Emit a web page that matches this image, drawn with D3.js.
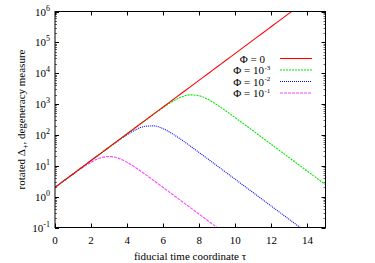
<!DOCTYPE html>
<html>
<head>
<meta charset="utf-8">
<title>degeneracy measure</title>
<script src="https://cdn.jsdelivr.net/npm/d3@7/dist/d3.min.js"></script>
<style>
    body { margin: 0; background: #fff; }
    svg text { font-family: "Liberation Serif", "DejaVu Serif", serif; fill: #000; }
</style>
</head>
<body>
<svg id="chart"></svg>
<script>
    // time coordinate samples (tau), shared by every curve
    const tau = [0, 0.5, 1, 1.5, 2, 2.5, 3, 3.5, 4, 4.5, 5, 5.5, 6, 6.5, 7, 7.5,
                 8, 8.5, 9, 9.5, 10, 10.5, 11, 11.5, 12, 12.5, 13, 13.5, 14, 14.5, 15];

    // Phi = 0 (straight growth)
    const phi0 = [2, 3.3, 5.44, 8.96, 14.8, 24.4, 40.2, 66.2, 109, 180, 297, 489, 807, 1330,
                  2190, 3620, 5960, 9830, 16200, 26700, 44100, 72600, 120000, 197000,
                  326000, 537000, 885000, 1460000];
    // Phi = 1e-3
    const phi3 = [2, 3.3, 5.44, 8.96, 14.8, 24.4, 40.2, 66.2, 109, 180, 295, 482, 775, 1198,
                  1686, 1990, 1851, 1396, 931, 586, 360, 220, 134, 81, 49.2, 29.8, 18.1,
                  11.0, 6.65, 4.03, 2.45];
    // Phi = 1e-2
    const phi2 = [2, 3.3, 5.44, 8.96, 14.8, 24.3, 39.8, 64.5, 102, 150, 191, 196, 159, 110,
                  70.6, 43.7, 26.7, 16.3, 9.87, 5.99, 3.63, 2.2, 1.34, 0.81, 0.49, 0.298,
                  0.181, 0.11, 0.0665];
    // Phi = 1e-1
    const phi1 = [2, 3.27, 5.34, 8.53, 13.0, 17.8, 20.0, 17.7, 12.9, 8.47, 5.29, 3.25, 1.98,
                  1.2, 0.729, 0.442, 0.268, 0.163, 0.0987, 0.06];

    const xTicks = [0, 2, 4, 6, 8, 10, 12, 14];
    const yExps = [-1, 0, 1, 2, 3, 4, 5, 6];

    const seriesNames = ["0", "-3", "-2", "-1"];
    const seriesColors = ["#ff0000", "#00e800", "#0000ff", "#ff44ff"];
    const seriesDash = [null, "2,1", "1,1", "3,1"];
    const seriesData = [phi0, phi3, phi2, phi1];

    const W = 375, H = 263;
    const pLeft = 55, pRight = 325.5, pTop = 11.5, pBottom = 227.5;

    const svg = d3.select("#chart").attr("width", W).attr("height", H);

    const x = d3.scaleLinear().domain([0, 15]).range([pLeft, pRight]);
    const y = d3.scaleLog().domain([0.1, 1e6]).range([pBottom, pTop]);

    svg.append("clipPath").attr("id", "plotclip")
        .append("rect")
        .attr("x", pLeft).attr("y", pTop)
        .attr("width", pRight - pLeft).attr("height", pBottom - pTop);

    // minor ticks on the log axis
    let minor = [];
    for (let e = -1; e < 6; e++) {
        for (let m = 2; m <= 9; m++) minor.push(m * Math.pow(10, e));
    }
    const tickG = svg.append("g").attr("stroke", "#000").attr("stroke-width", 1);
    minor.forEach(function (v) {
        const yy = Math.round(y(v)) + 0.5;
        tickG.append("line").attr("x1", pLeft).attr("x2", pLeft + 2).attr("y1", yy).attr("y2", yy)
            .attr("stroke", "#666");
        tickG.append("line").attr("x1", pRight - 2).attr("x2", pRight).attr("y1", yy).attr("y2", yy)
            .attr("stroke", "#666");
    });
    yExps.forEach(function (e) {
        const yy = Math.round(y(Math.pow(10, e))) + 0.5;
        tickG.append("line").attr("x1", pLeft).attr("x2", pLeft + 4).attr("y1", yy).attr("y2", yy);
        tickG.append("line").attr("x1", pRight - 4).attr("x2", pRight).attr("y1", yy).attr("y2", yy);
    });
    xTicks.forEach(function (t) {
        const xx = Math.round(x(t)) + 0.5;
        tickG.append("line").attr("x1", xx).attr("x2", xx).attr("y1", pBottom).attr("y2", pBottom - 4);
        tickG.append("line").attr("x1", xx).attr("x2", xx).attr("y1", pTop).attr("y2", pTop + 4);
    });

    // curves
    const line = d3.line()
        .x(function (d) { return x(d[0]); })
        .y(function (d) { return y(d[1]); })
        .curve(d3.curveMonotoneX);

    const curves = svg.append("g").attr("clip-path", "url(#plotclip)");
    // draw later series first so red ends on top
    for (let i = seriesData.length - 1; i >= 0; i--) {
        const pts = seriesData[i].map(function (v, k) { return [tau[k], v]; });
        curves.append("path")
            .attr("d", line(pts))
            .attr("fill", "none")
            .attr("stroke", seriesColors[i])
            .attr("stroke-width", 1.1)
            .attr("stroke-dasharray", seriesDash[i]);
    }

    // frame
    svg.append("rect")
        .attr("x", pLeft).attr("y", pTop)
        .attr("width", pRight - pLeft).attr("height", pBottom - pTop)
        .attr("fill", "none").attr("stroke", "#000").attr("stroke-width", 1);

    // tick labels
    xTicks.forEach(function (t) {
        svg.append("text")
            .attr("x", x(t)).attr("y", 244)
            .attr("text-anchor", "middle")
            .attr("font-size", 11)
            .text(t);
    });
    yExps.forEach(function (e) {
        const tx = svg.append("text")
            .attr("x", 50).attr("y", y(Math.pow(10, e)) + 4)
            .attr("text-anchor", "end")
            .attr("font-size", 11);
        tx.append("tspan").text("10");
        tx.append("tspan").attr("font-size", 8).attr("dy", -5).text(e);
    });

    // axis titles
    svg.append("text")
        .attr("x", 190).attr("y", 260)
        .attr("text-anchor", "middle")
        .attr("font-size", 11)
        .text("fiducial time coordinate τ");

    const yl = svg.append("text")
        .attr("transform", "translate(25," + ((pTop + pBottom) / 2) + ") rotate(-90)")
        .attr("text-anchor", "middle")
        .attr("font-size", 11);
    yl.append("tspan").text("rotated Δ");
    yl.append("tspan").attr("font-size", 8).attr("dy", 3).text("+");
    yl.append("tspan").attr("dy", -3).text(", degeneracy measure");

    // legend
    const legY = [58.5, 70, 81.5, 93];
    seriesNames.forEach(function (n, i) {
        if (n === "0") {
            svg.append("text")
                .attr("x", 265).attr("y", legY[i] + 4)
                .attr("text-anchor", "end")
                .attr("font-size", 11)
                .text("Φ = 0");
        } else {
            svg.append("text")
                .attr("x", 264).attr("y", legY[i] + 4)
                .attr("text-anchor", "end")
                .attr("font-size", 11)
                .text("Φ = 10");
            svg.append("text")
                .attr("x", 264.5).attr("y", legY[i] - 0.5)
                .attr("font-size", 7)
                .text(n);
        }
        svg.append("line")
            .attr("x1", 280).attr("x2", 312)
            .attr("y1", legY[i]).attr("y2", legY[i])
            .attr("stroke", seriesColors[i])
            .attr("stroke-width", 1.1)
            .attr("stroke-dasharray", seriesDash[i]);
    });
</script>
</body>
</html>
